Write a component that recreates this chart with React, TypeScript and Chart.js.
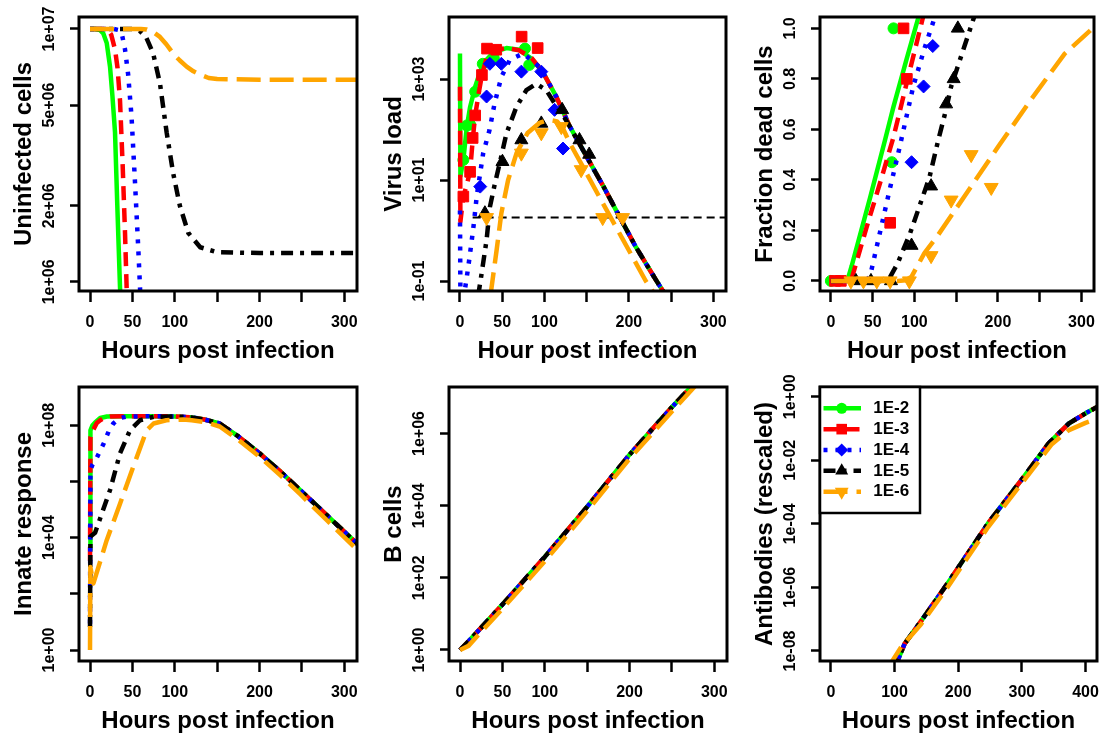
import React, { useEffect, useRef } from 'react';
import { Chart, registerables } from 'chart.js';

Chart.register(...registerables);

const FONT = '"Liberation Sans", Arial, Helvetica, sans-serif';

// ---------- series identity ----------
const doseLabels = ['1E-2', '1E-3', '1E-4', '1E-5', '1E-6'];

// ---------- tick values / labels ----------
const hourTicks = [0, 50, 100, 150, 200, 250, 300];
const hourTickLabels = ['0', '50', '100', '', '200', '', '300'];
const hourTicksLong = [0, 100, 200, 300, 400];
const hourTickLabelsLong = ['0', '100', '200', '300', '400'];
const uninfTicks = [1e6, 2e6, 5e6, 1e7];
const uninfTickLabels = ['1e+06', '2e+06', '5e+06', '1e+07'];
const virusTicks = [0.1, 10, 1000];
const virusTickLabels = ['1e-01', '1e+01', '1e+03'];
const deadTicks = [0, 0.2, 0.4, 0.6, 0.8, 1.0];
const deadTickLabels = ['0.0', '0.2', '0.4', '0.6', '0.8', '1.0'];
const innateTicks = [1, 1e2, 1e4, 1e6, 1e8];
const innateTickLabels = ['1e+00', '', '1e+04', '', '1e+08'];
const bcellTicks = [1, 1e2, 1e4, 1e6];
const bcellTickLabels = ['1e+00', '1e+02', '1e+04', '1e+06'];
const abTicks = [1e-8, 1e-6, 1e-4, 1e-2, 1];
const abTickLabels = ['1e-08', '1e-06', '1e-04', '1e-02', '1e+00'];

// ---------- Uninfected cells [hour, cells] ----------
const uninfected1E2 = [[0, 1e7], [6, 1e7], [11.8, 9.9e6], [15.7, 9.6e6], [19.7, 8.8e6], [23.6, 7.1e6], [26.5, 5.4e6], [29.5, 3.9e6], [32.2, 2.0e6], [35.4, 9.5e5], [37, 7e5]];
const uninfected1E3 = [[0, 1e7], [16, 1e7], [21, 9.9e6], [25, 9.5e6], [29.5, 8.3e6], [32.5, 7.0e6], [35.4, 5.2e6], [38.5, 2.9e6], [41.3, 1.56e6], [43.2, 9.5e5], [44.5, 7e5]];
const uninfected1E4 = [[0, 1e7], [28, 1e7], [34, 9.9e6], [38, 9.4e6], [41.3, 8.3e6], [45, 6.6e6], [49, 4.5e6], [53, 2.5e6], [57, 1.34e6], [59, 9.5e5], [60, 7e5]];
const uninfected1E5 = [[0, 1e7], [50, 1e7], [59, 9.8e6], [66, 9.3e6], [74.5, 8.0e6], [82.5, 6.1e6], [90.4, 3.9e6], [98, 2.7e6], [106, 2.0e6], [116, 1.56e6], [130, 1.37e6], [150, 1.31e6], [200, 1.3e6], [316, 1.3e6]];
const uninfected1E6 = [[0, 1e7], [60, 1e7], [67, 9.95e6], [75, 9.7e6], [82.5, 9.3e6], [90, 8.7e6], [98, 8.0e6], [106, 7.5e6], [114, 7.1e6], [122, 6.8e6], [130, 6.6e6], [140, 6.4e6], [150, 6.34e6], [200, 6.3e6], [316, 6.3e6]];

// ---------- Virus load: model [hour, load] ----------
const virus1E2 = [[0, 3200], [0.5, 12], [4, 25], [8, 110], [12, 280], [18, 700], [27, 2000], [40, 3400], [55, 4100], [70, 3800], [85, 2500], [98, 1380], [114, 447], [130, 115], [150, 29], [170, 7.4], [189, 1.86], [208, 0.48], [232, 0.105], [246, 0.045]];
const virus1E3 = [[0, 700], [0.5, 1.5], [4, 4.7], [8, 8], [12, 15], [15, 60], [18, 190], [22, 500], [26, 1200], [32, 2800], [40, 3700], [55, 4100], [70, 3700], [85, 2600], [98, 1380], [114, 447], [130, 115], [150, 29], [170, 7.4], [189, 1.86], [208, 0.48], [232, 0.105], [246, 0.045]];
const virus1E4 = [[0, 2.5], [0.5, 0.05], [6, 0.07], [10, 0.2], [14, 0.65], [16, 1.2], [20, 5], [27.5, 34], [35, 98], [41, 330], [49, 1100], [59, 2400], [75, 3200], [94, 1740], [98, 1380], [114, 447], [130, 115], [150, 29], [170, 7.4], [189, 1.86], [208, 0.48], [232, 0.105], [246, 0.045]];
const virus1E5 = [[20, 0.05], [22.4, 0.063], [25.6, 0.14], [31.5, 0.65], [35.4, 2.9], [41, 8], [47.2, 22], [55, 83], [66.8, 280], [78.6, 600], [90.4, 810], [102.2, 600], [112, 330], [122, 190], [130, 115], [150, 29], [170, 7.4], [189, 1.86], [208, 0.48], [232, 0.105], [246, 0.045]];
const virus1E6 = [[36, 0.05], [43.3, 0.4], [49, 2.2], [57, 10], [67, 34], [80, 85], [94, 135], [105, 155], [115, 145], [122, 105], [130, 54], [145, 19], [169, 3.5], [193, 0.66], [220, 0.1], [234, 0.045]];
// Virus load: observations
const virusObs1E2 = [[4, 25], [8, 120], [12, 125], [18, 560], [27, 2000], [40, 2600], [77, 4000], [82, 1900]];
const virusObs1E3 = [[4, 4.7], [12, 14.5], [15, 68], [18, 190], [26, 1200], [32, 4000], [43, 3800], [73, 6900], [92, 4100]];
const virusObs1E4 = [[24, 7.4], [31.5, 450], [35.4, 2000], [49, 2000], [72.7, 1400], [96.3, 1400], [112, 245], [122, 42]];
const virusObs1E5 = [[29.5, 2.2], [50.3, 23], [72.7, 62], [96.3, 132], [121, 245], [141.5, 62], [153, 32]];
const virusObs1E6 = [[31.5, 1.8], [72.7, 34], [96.3, 86], [120, 114], [143.5, 16], [169, 1.8], [192.6, 1.8]];
const detectionLimit = [[15, 1.8], [320, 1.8]];

// ---------- Fraction dead cells ----------
const dead1E2 = [[0, 0], [18, 0], [21, 0.015], [25, 0.06], [47, 0.33], [65, 0.56], [75, 0.69], [90, 0.87], [104.5, 1.04], [108, 1.08]];
const dead1E3 = [[0, 0], [24, 0], [28, 0.044], [43, 0.215], [60, 0.4], [75, 0.57], [92, 0.8], [110, 1.04], [113, 1.08]];
const dead1E4 = [[0, 0], [42, 0], [47, 0.02], [71, 0.37], [81, 0.51], [98.6, 0.77], [112, 0.92], [124, 1.04], [127, 1.08]];
const dead1E5 = [[0, 0], [60, 0], [70, 0.01], [80, 0.07], [95, 0.19], [118, 0.41], [128, 0.55], [138, 0.68], [144, 0.77], [160, 0.93], [172, 1.05], [175, 1.08]];
const dead1E6 = [[0, 0], [80, 0], [90, 0.003], [96.6, 0.017], [112, 0.11], [128, 0.18], [160, 0.335], [200, 0.53], [240, 0.72], [280, 0.9], [310, 0.99], [316, 1.01]];
const deadObs1E2 = [[0, 0], [73, 0.47], [75, 1.0]];
const deadObs1E3 = [[5, 0], [12, 0], [71, 0.23], [87, 1.0], [91, 0.8]];
const deadObs1E4 = [[96.6, 0.47], [111, 0.77], [122, 0.93]];
const deadObs1E5 = [[30, 0], [48, 0], [72, 0], [96.6, 0.14], [120, 0.375], [138, 0.7], [147, 0.8], [152, 1.0]];
const deadObs1E6 = [[24, 0], [39, 0], [55, 0], [71, 0], [94, 0], [120, 0.1], [144, 0.32], [168, 0.5], [192, 0.37]];

// ---------- Innate response ----------
const innate1E2 = [[0, 3.5e3], [0.5, 6.6e7], [3, 1e8], [6, 1.26e8], [12, 1.8e8], [20, 2.05e8], [40, 2.1e8], [70, 2.1e8], [100, 2.05e8], [120, 1.9e8], [135, 1.6e8], [153, 1.15e8], [175, 4e7], [200, 1e7], [225, 2.2e6], [248, 4.9e5], [280, 6e4], [316, 5.8e3]];
const innate1E3 = [[0, 1.5e3], [0.5, 3.8e7], [4, 7e7], [8, 1.2e8], [12, 1.5e8], [18, 1.9e8], [24, 2.05e8], [40, 2.1e8], [70, 2.1e8], [100, 2.05e8], [120, 1.9e8], [135, 1.6e8], [153, 1.15e8], [175, 4e7], [200, 1e7], [225, 2.2e6], [248, 4.9e5], [280, 6e4], [316, 5.8e3]];
const innate1E4 = [[0, 8.7], [0.5, 2.5e6], [3, 4e6], [8, 7e6], [16, 2.2e7], [22, 6e7], [27.5, 1.15e8], [35, 1.8e8], [43, 2e8], [70, 2.1e8], [100, 2.05e8], [120, 1.9e8], [135, 1.6e8], [153, 1.15e8], [175, 4e7], [200, 1e7], [225, 2.2e6], [248, 4.9e5], [280, 6e4], [316, 5.8e3]];
const innate1E5 = [[0, 6.6], [0.5, 1.1e4], [6, 1.5e4], [12, 4.9e4], [23.6, 4.9e5], [35.4, 1e7], [47.2, 6.6e7], [59, 1.5e8], [75, 2e8], [100, 2.05e8], [120, 1.9e8], [135, 1.6e8], [153, 1.15e8], [175, 4e7], [200, 1e7], [225, 2.2e6], [248, 4.9e5], [280, 6e4], [316, 5.8e3]];
const innate1E6 = [[0, 1], [0.4, 900], [4, 234], [19.7, 8.1e3], [35.4, 1.6e5], [51, 3.3e6], [66.8, 6.6e7], [75, 1.15e8], [90, 1.5e8], [110, 1.6e8], [120, 1.5e8], [135, 1.3e8], [153, 9e7], [175, 3e7], [200, 7.6e6], [225, 1.6e6], [248, 3.5e5], [280, 4e4], [316, 3.5e3]];

// ---------- B cells ----------
const bcell1E2 = [[0, 1], [10, 1.74], [25, 4.17], [50, 18.2], [100, 380], [150, 9.3e3], [200, 2.6e5], [250, 5.4e6], [280, 3e7]];
const bcell1E3 = [[0, 1], [10, 1.74], [25, 4.17], [50, 18.2], [100, 380], [150, 9.3e3], [200, 2.6e5], [250, 5.4e6], [280, 3e7]];
const bcell1E4 = [[0, 1], [10, 1.74], [25, 4.17], [50, 18.2], [100, 380], [150, 9.3e3], [200, 2.6e5], [250, 5.4e6], [280, 3e7]];
const bcell1E5 = [[0, 1], [10, 1.74], [25, 4.17], [50, 18.2], [100, 380], [150, 9.3e3], [200, 2.6e5], [250, 5.4e6], [280, 3e7]];
const bcell1E6 = [[0, 1], [10, 1.3], [25, 3.2], [50, 13.8], [100, 288], [150, 7.1e3], [200, 2e5], [250, 4.1e6], [280, 2.4e7]];

// ---------- Antibodies (rescaled) ----------
const ab1E2 = [[100, 2.5e-9], [105, 5e-9], [116, 1.7e-8], [142, 8.9e-8], [184, 1.4e-6], [247, 1.05e-4], [300, 2.5e-3], [342, 3.4e-2], [374, 0.145], [400, 0.3], [420, 0.5]];
const ab1E3 = [[100, 2.5e-9], [105, 5e-9], [116, 1.7e-8], [142, 8.9e-8], [184, 1.4e-6], [247, 1.05e-4], [300, 2.5e-3], [342, 3.4e-2], [374, 0.145], [400, 0.3], [420, 0.5]];
const ab1E4 = [[100, 2.5e-9], [105, 5e-9], [116, 1.7e-8], [142, 8.9e-8], [184, 1.4e-6], [247, 1.05e-4], [300, 2.5e-3], [342, 3.4e-2], [374, 0.145], [400, 0.3], [420, 0.5]];
const ab1E5 = [[100, 2.5e-9], [105, 5e-9], [116, 1.7e-8], [142, 8.9e-8], [184, 1.4e-6], [247, 1.05e-4], [300, 2.5e-3], [342, 3.4e-2], [374, 0.145], [400, 0.3], [420, 0.5]];
const ab1E6 = [[90, 3e-9], [110, 1.3e-8], [142, 7.1e-8], [184, 1.05e-6], [247, 7.9e-5], [300, 1.9e-3], [347, 3.2e-2], [374, 8.9e-2], [400, 0.15], [420, 0.21]];

// ---------- styles ----------
const doseColors = ['#00ff00', '#ff0000', '#0000ff', '#000000', '#ffa500'];
const doseDashes = [[], [14, 8], [4, 8], [12, 7, 4, 7], [24, 9]];
const doseMarkers = ['circle', 'rect', 'rectRot', 'triangle', 'triangle'];
const doseMarkerRot = [0, 0, 0, 0, 180];
const doseMarkerSize = [5.5, 7.5, 6.5, 7.5, 8];

const specs: any[] = [
  {
    left: 0, top: 0, width: 368, height: 370, axisW: 79, axisH: 79, padTop: 17, padRight: 11,
    xMin: -13, xMax: 315, xTicks: hourTicks, xLabels: hourTickLabels, xTitle: 'Hours post infection',
    yType: 'logarithmic', yMin: 9.2e5, yMax: 1.115e7, yTicks: uninfTicks, yLabels: uninfTickLabels, yTitle: 'Uninfected cells',
    lines: [uninfected1E2, uninfected1E3, uninfected1E4, uninfected1E5, uninfected1E6],
  },
  {
    left: 368, top: 0, width: 367, height: 370, axisW: 81, axisH: 79, padTop: 17, padRight: 8,
    xMin: -13, xMax: 315, xTicks: hourTicks, xLabels: hourTickLabels, xTitle: 'Hour post infection',
    yType: 'logarithmic', yMin: 0.0634, yMax: 1.69e4, yTicks: virusTicks, yLabels: virusTickLabels, yTitle: 'Virus load',
    lines: [virus1E2, virus1E3, virus1E4, virus1E5, virus1E6],
    markers: [virusObs1E2, virusObs1E3, virusObs1E4, virusObs1E5, virusObs1E6],
    refLine: detectionLimit,
  },
  {
    left: 735, top: 0, width: 368, height: 370, axisW: 85, axisH: 79, padTop: 17, padRight: 6,
    xMin: -13, xMax: 315, xTicks: hourTicks, xLabels: hourTickLabels, xTitle: 'Hour post infection',
    yType: 'linear', yMin: -0.04, yMax: 1.045, yTicks: deadTicks, yLabels: deadTickLabels, yTitle: 'Fraction dead cells',
    lines: [dead1E2, dead1E3, dead1E4, dead1E5, dead1E6],
    markers: [deadObs1E2, deadObs1E3, deadObs1E4, deadObs1E5, deadObs1E6],
  },
  {
    left: 0, top: 370, width: 368, height: 370, axisW: 79, axisH: 79, padTop: 17, padRight: 11,
    xMin: -13, xMax: 315, xTicks: hourTicks, xLabels: hourTickLabels, xTitle: 'Hours post infection',
    yType: 'logarithmic', yMin: 0.407, yMax: 2.29e9, yTicks: innateTicks, yLabels: innateTickLabels, yTitle: 'Innate response',
    lines: [innate1E2, innate1E3, innate1E4, innate1E5, innate1E6],
  },
  {
    left: 368, top: 370, width: 367, height: 370, axisW: 81, axisH: 79, padTop: 17, padRight: 8,
    xMin: -13, xMax: 315, xTicks: hourTicks, xLabels: hourTickLabels, xTitle: 'Hours post infection',
    yType: 'logarithmic', yMin: 0.495, yMax: 1.95e7, yTicks: bcellTicks, yLabels: bcellTickLabels, yTitle: 'B cells',
    lines: [bcell1E2, bcell1E3, bcell1E4, bcell1E5, bcell1E6],
  },
  {
    left: 735, top: 370, width: 368, height: 370, axisW: 85, axisH: 79, padTop: 17, padRight: 6,
    xMin: -17, xMax: 418, xTicks: hourTicksLong, xLabels: hourTickLabelsLong, xTitle: 'Hours post infection',
    yType: 'logarithmic', yMin: 4.84e-9, yMax: 2.02, yTicks: abTicks, yLabels: abTickLabels, yTitle: 'Antibodies (rescaled)',
    lines: [ab1E2, ab1E3, ab1E4, ab1E5, ab1E6],
    legend: true,
  },
];

const toXY = (pts: number[][]) => pts.map(([x, y]) => ({ x, y }));

function lineDataset(pts: number[][], i: number) {
  return {
    label: doseLabels[i],
    data: toXY(pts),
    borderColor: doseColors[i],
    backgroundColor: doseColors[i],
    borderWidth: 4.5,
    borderDash: doseDashes[i],
    borderCapStyle: 'butt',
    borderJoinStyle: 'round',
    pointRadius: 0,
    pointHoverRadius: 0,
    pointHitRadius: 0,
    fill: false,
    tension: 0,
    clip: 0,
  };
}

function markerDataset(pts: number[][], i: number) {
  return {
    label: doseLabels[i] + ' data',
    data: toXY(pts),
    showLine: false,
    pointStyle: doseMarkers[i],
    rotation: doseMarkerRot[i],
    pointRotation: doseMarkerRot[i],
    pointRadius: doseMarkerSize[i],
    pointHoverRadius: doseMarkerSize[i],
    pointBackgroundColor: doseColors[i],
    pointBorderColor: doseColors[i],
    pointBorderWidth: 1,
    borderColor: doseColors[i],
    backgroundColor: doseColors[i],
    clip: 0,
  };
}

const framePlugin = {
  id: 'frameBox',
  afterDatasetsDraw(chart: any) {
    const { ctx, chartArea: a } = chart;
    ctx.save();
    ctx.setLineDash([]);
    ctx.strokeStyle = '#000';
    ctx.lineWidth = 3;
    ctx.strokeRect(a.left, a.top, a.right - a.left, a.bottom - a.top);
    ctx.restore();
  },
};

function drawMarker(ctx: CanvasRenderingContext2D, style: string, x: number, y: number, r: number, rotDeg: number) {
  ctx.beginPath();
  if (style === 'circle') {
    ctx.arc(x, y, r, 0, Math.PI * 2);
  } else if (style === 'rect') {
    const s = r * Math.SQRT1_2;
    ctx.rect(x - s, y - s, 2 * s, 2 * s);
  } else if (style === 'rectRot') {
    ctx.moveTo(x, y - r);
    ctx.lineTo(x + r, y);
    ctx.lineTo(x, y + r);
    ctx.lineTo(x - r, y);
    ctx.closePath();
  } else {
    let rad = (rotDeg * Math.PI) / 180;
    ctx.moveTo(x + Math.sin(rad) * r, y - Math.cos(rad) * r);
    rad += (2 * Math.PI) / 3;
    ctx.lineTo(x + Math.sin(rad) * r, y - Math.cos(rad) * r);
    rad += (2 * Math.PI) / 3;
    ctx.lineTo(x + Math.sin(rad) * r, y - Math.cos(rad) * r);
    ctx.closePath();
  }
  ctx.fill();
}

const legendPlugin = {
  id: 'doseLegend',
  afterDatasetsDraw(chart: any) {
    const { ctx, chartArea: a } = chart;
    const bx = a.left;
    const by = a.top;
    const bw = 100;
    const bh = 126;
    ctx.save();
    ctx.fillStyle = '#fff';
    ctx.fillRect(bx, by, bw, bh);
    ctx.setLineDash([]);
    ctx.strokeStyle = '#000';
    ctx.lineWidth = 2.5;
    ctx.strokeRect(bx, by, bw, bh);
    doseLabels.forEach((lab, i) => {
      const y = by + 21.3 + i * 20.85;
      ctx.strokeStyle = doseColors[i];
      ctx.lineWidth = 4.5;
      ctx.lineCap = 'butt';
      ctx.setLineDash(doseDashes[i]);
      ctx.beginPath();
      ctx.moveTo(bx + 3.5, y);
      ctx.lineTo(bx + 41, y);
      ctx.stroke();
      ctx.setLineDash([]);
      ctx.fillStyle = doseColors[i];
      drawMarker(ctx, doseMarkers[i], bx + 21.7, y, doseMarkerSize[i], doseMarkerRot[i]);
      ctx.fillStyle = '#000';
      ctx.font = `bold 17px ${FONT}`;
      ctx.textAlign = 'left';
      ctx.textBaseline = 'middle';
      ctx.fillText(lab, bx + 53.3, y);
    });
    ctx.restore();
  },
};

function makeChart(canvas: HTMLCanvasElement, p: any) {
  const tickFont = { family: FONT, size: 16, weight: 'bold' };
  const titleFont = { family: FONT, size: 24, weight: 'bold', lineHeight: 1.2 };
  const mctx = document.createElement('canvas').getContext('2d') as CanvasRenderingContext2D;
  mctx.font = `bold 16px ${FONT}`;
  const widest = Math.max(...p.yLabels.map((l: string) => mctx.measureText(l).width));
  const yTickPad = 20.5 - widest / 2;

  const ds: any[] = [];
  if (p.refLine) {
    ds.push({
      label: 'detection limit',
      data: toXY(p.refLine),
      borderColor: '#000',
      borderWidth: 2,
      borderDash: [8, 5],
      pointRadius: 0,
      pointHoverRadius: 0,
      fill: false,
      clip: 0,
    });
  }
  p.lines.forEach((pts: number[][], i: number) => {
    ds.push(lineDataset(pts, i));
    if (p.markers && p.markers[i]) ds.push(markerDataset(p.markers[i], i));
  });
  ds.reverse();

  const plugins: any[] = [framePlugin];
  if (p.legend) plugins.push(legendPlugin);

  return new Chart(canvas, {
    type: 'line',
    data: { datasets: ds },
    options: {
      responsive: false,
      animation: false,
      events: [],
      layout: { padding: { left: 0, top: p.padTop, right: p.padRight, bottom: 0 } },
      plugins: { legend: { display: false }, tooltip: { enabled: false }, title: { display: false } },
      scales: {
        x: {
          type: 'linear',
          position: 'bottom',
          min: p.xMin,
          max: p.xMax,
          afterBuildTicks: (s: any) => { s.ticks = p.xTicks.map((v: number) => ({ value: v })); },
          afterFit: (s: any) => { s.height = p.axisH; s.paddingLeft = 0; s.paddingRight = 0; },
          ticks: {
            autoSkip: false, minRotation: 0, maxRotation: 0, padding: 11.4,
            font: tickFont, color: '#000',
            callback: (_v: any, i: number) => p.xLabels[i] ?? '',
          },
          grid: { display: true, drawOnChartArea: false, drawTicks: true, tickLength: 11, tickWidth: 2.5, tickColor: '#000' },
          border: { display: false },
          title: { display: true, text: p.xTitle, color: '#000', font: titleFont, padding: { top: 0, bottom: p.axisH - 60.7 - 14.4 } },
        },
        y: {
          type: p.yType,
          position: 'left',
          min: p.yMin,
          max: p.yMax,
          afterBuildTicks: (s: any) => { s.ticks = p.yTicks.map((v: number) => ({ value: v })); },
          afterFit: (s: any) => { s.width = p.axisW; s.paddingTop = 0; s.paddingBottom = 0; },
          ticks: {
            autoSkip: false, minRotation: 90, maxRotation: 90, crossAlign: 'center', padding: yTickPad,
            font: tickFont, color: '#000',
            callback: (_v: any, i: number) => p.yLabels[i] ?? '',
          },
          grid: { display: true, drawOnChartArea: false, drawTicks: true, tickLength: 9, tickWidth: 2.5, tickColor: '#000' },
          border: { display: false },
          title: { display: true, text: p.yTitle, color: '#000', font: titleFont, padding: { top: p.axisW - 54.5 - 14.4, bottom: 0 } },
        },
      },
    } as any,
    plugins,
  } as any);
}

function Panel({ spec }: { spec: any }) {
  const ref = useRef<HTMLCanvasElement | null>(null);
  useEffect(() => {
    if (!ref.current) return;
    const chart = makeChart(ref.current, spec);
    return () => chart.destroy();
  }, [spec]);
  return (
    <canvas
      ref={ref}
      width={spec.width}
      height={spec.height}
      style={{ position: 'absolute', left: spec.left, top: spec.top, width: spec.width, height: spec.height }}
    />
  );
}

export default function App() {
  return (
    <div style={{ position: 'fixed', left: 0, top: 0, width: 1103, height: 740, background: '#fff', overflow: 'hidden' }}>
      {specs.map((s, i) => (
        <Panel key={i} spec={s} />
      ))}
    </div>
  );
}
